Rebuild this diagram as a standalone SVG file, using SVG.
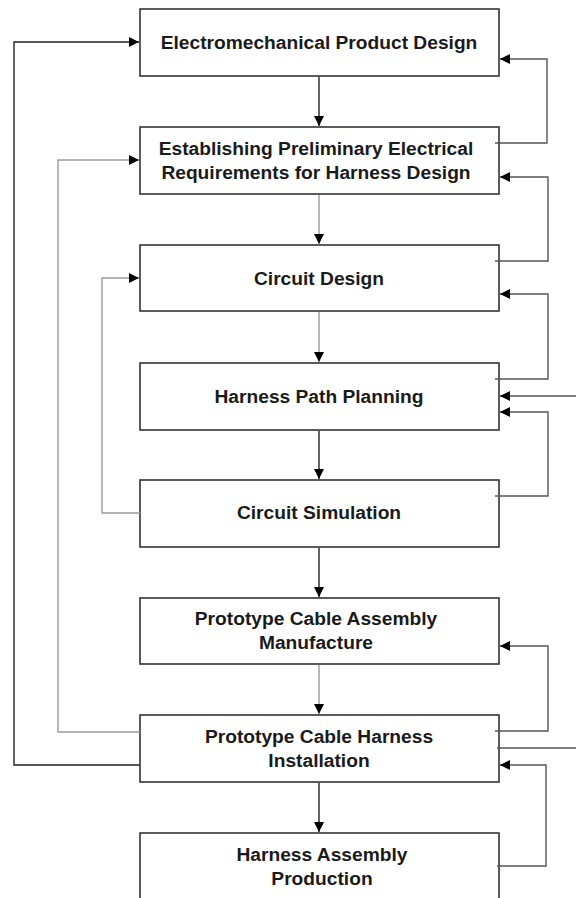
<svg xmlns="http://www.w3.org/2000/svg" width="576" height="898" viewBox="0 0 576 898">
  <style>
    .box { fill: #ffffff; stroke: #333333; stroke-width: 1.6; }
    .lbl { font-family: "Liberation Sans", Arial, sans-serif; font-size: 19.2px; font-weight: bold; fill: #1a1a1a; text-anchor: middle; }
    .dark { fill: none; stroke: #222222; stroke-width: 1.4; }
    .grey { fill: none; stroke: #9a9a9a; stroke-width: 1.4; }
    .mid { fill: none; stroke: #555555; stroke-width: 1.4; }
  </style>
  <defs>
    <marker id="arrow" viewBox="0 0 10 10" refX="10" refY="5" markerWidth="10" markerHeight="10" markerUnits="userSpaceOnUse" orient="auto">
      <path d="M0,0 L10,5 L0,10 z" fill="#000000"/>
    </marker>
  </defs>

  <rect width="576" height="898" fill="#ffffff"/>

  <!-- process steps -->
  <g id="n1"><rect class="box" x="140" y="9" width="359" height="67"/><text class="lbl" x="319" y="49">Electromechanical Product Design</text></g>
  <g id="n2"><rect class="box" x="140" y="127" width="359" height="67"/><text class="lbl" x="316" y="155">Establishing Preliminary Electrical</text><text class="lbl" x="316" y="179">Requirements for Harness Design</text></g>
  <g id="n3"><rect class="box" x="140" y="245" width="359" height="66"/><text class="lbl" x="319" y="285">Circuit Design</text></g>
  <g id="n4"><rect class="box" x="140" y="363" width="359" height="67"/><text class="lbl" x="319" y="403">Harness Path Planning</text></g>
  <g id="n5"><rect class="box" x="140" y="480" width="359" height="67"/><text class="lbl" x="319" y="519">Circuit Simulation</text></g>
  <g id="n6"><rect class="box" x="140" y="598" width="359" height="66"/><text class="lbl" x="316" y="625">Prototype Cable Assembly</text><text class="lbl" x="316" y="649">Manufacture</text></g>
  <g id="n7"><rect class="box" x="140" y="715" width="359" height="67"/><text class="lbl" x="319" y="743">Prototype Cable Harness</text><text class="lbl" x="319" y="767">Installation</text></g>
  <g id="n8"><rect class="box" x="140" y="833" width="359" height="80"/><text class="lbl" x="322" y="861">Harness Assembly</text><text class="lbl" x="322" y="885">Production</text></g>

  <!-- connectors -->
  <g id="connectors">
    <!-- main flow -->
    <path class="dark" d="M319,77 V126" marker-end="url(#arrow)"/>
    <path class="grey" d="M319,195 V244" marker-end="url(#arrow)"/>
    <path class="grey" d="M319,312 V362" marker-end="url(#arrow)"/>
    <path class="dark" d="M319,431 V479" marker-end="url(#arrow)"/>
    <path class="dark" d="M319,548 V597" marker-end="url(#arrow)"/>
    <path class="grey" d="M319,665 V714" marker-end="url(#arrow)"/>
    <path class="dark" d="M319,783 V832" marker-end="url(#arrow)"/>

    <!-- right-hand feedback loops -->
    <path class="mid" d="M495,143 H547 V59 H500" marker-end="url(#arrow)"/>
    <path class="mid" d="M495,261 H548 V177 H500" marker-end="url(#arrow)"/>
    <path class="mid" d="M495,379 H548 V294 H500" marker-end="url(#arrow)"/>
    <path class="mid" d="M576,396 H500" marker-end="url(#arrow)"/>
    <path class="mid" d="M495,496 H548 V412 H500" marker-end="url(#arrow)"/>
    <path class="mid" d="M495,731 H548 V646 H500" marker-end="url(#arrow)"/>
    <path class="mid" d="M497,748 H576"/>
    <path class="mid" d="M497,866 H546 V765 H500" marker-end="url(#arrow)"/>

    <!-- left-hand feedback loops -->
    <path class="dark" d="M140,765 H14 V42 H139" marker-end="url(#arrow)"/>
    <path class="grey" d="M140,732 H58 V160 H139" marker-end="url(#arrow)"/>
    <path class="grey" d="M140,513 H102 V278 H139" marker-end="url(#arrow)"/>
  </g>
</svg>
